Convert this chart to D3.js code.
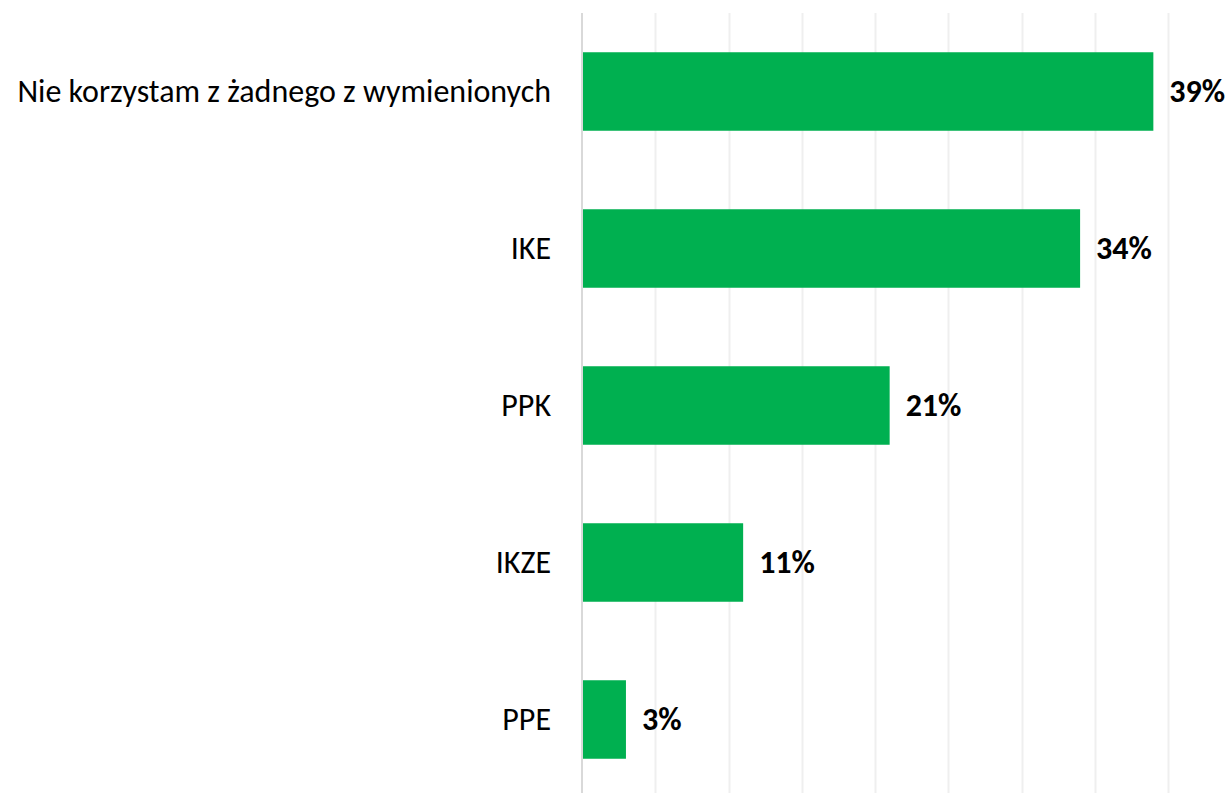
<!DOCTYPE html>
<html>
<head>
<meta charset="utf-8">
<script src="https://cdn.jsdelivr.net/npm/d3@7"></script>
<style>
  body { margin: 0; background: #fff; }
  svg text { font-family: Carlito, "Open Sans", "Liberation Sans", sans-serif; }
</style>
</head>
<body>
<svg id="chart" width="1230" height="793"></svg>
<script>

var categories = ["Nie korzystam z żadnego z wymienionych", "IKE", "PPK", "IKZE", "PPE"];
var values = [39, 34, 21, 11, 3];
var gridTicks = [0, 5, 10, 15, 20, 25, 30, 35, 40];

function renderBars(element) {

	var width = 1230;
	var height = 793;

	var margin = {
		top : 13,
		bottom : -5,
		left: 582,
		right: 62
	};

	var svg = d3.select(element);

	var xScale = d3.scaleLinear()
		.domain([0, 40])
		.range([margin.left, width - margin.right]);

	var yScale = d3.scaleBand()
		.domain(categories)
		.range([margin.top, height - margin.bottom])
		.paddingInner(0.5)
		.paddingOuter(0.25);

	// vertical gridlines
	svg.append("g")
		.selectAll("line")
		.data(gridTicks.slice(1))
		.enter()
		.append("line")
		.attr("x1", d => Math.round(xScale(d)) + 0.5)
		.attr("x2", d => Math.round(xScale(d)) + 0.5)
		.attr("y1", margin.top)
		.attr("y2", height)
		.attr("stroke", "#efefef")
		.attr("stroke-width", 2);

	svg.selectAll(".bar")
		.data(values)
		.enter()
		.append("rect")
		.attr("class", "bar")
		.attr("x", xScale(0))
		.attr("y", (d, i) => yScale(categories[i]))
		.attr("width", d => xScale(d) - xScale(0))
		.attr("height", yScale.bandwidth())
		.attr("fill", "#00b050");

	// axis line
	svg.append("line")
		.attr("x1", xScale(0))
		.attr("x2", xScale(0))
		.attr("y1", margin.top)
		.attr("y2", height)
		.attr("stroke", "#d9d9d9")
		.attr("stroke-width", 2);

	var yAxis = d3.axisLeft(yScale).tickSize(0).tickPadding(31);
	var axisG = svg.append("g")
		.attr("transform", "translate(" + xScale(0) + ",0)")
		.call(yAxis);
	axisG.select(".domain").remove();
	axisG.selectAll("text")
		.attr("font-size", 32)
		.attr("fill", "#000")
		.attr("dy", null)
		.attr("dominant-baseline", "central")
		.style("font-family", "Carlito, 'Open Sans', 'Liberation Sans', sans-serif");

	svg.selectAll(".value")
		.data(values)
		.enter()
		.append("text")
		.attr("class", "value")
		.attr("x", d => xScale(d) + 16)
		.attr("y", (d, i) => yScale(categories[i]) + yScale.bandwidth() / 2)
		.attr("dominant-baseline", "central")
		.attr("font-size", 32)
		.attr("font-weight", "bold")
		.attr("fill", "#000")
		.text(d => d + "%");
}

renderBars("#chart");
</script>
</body>
</html>
